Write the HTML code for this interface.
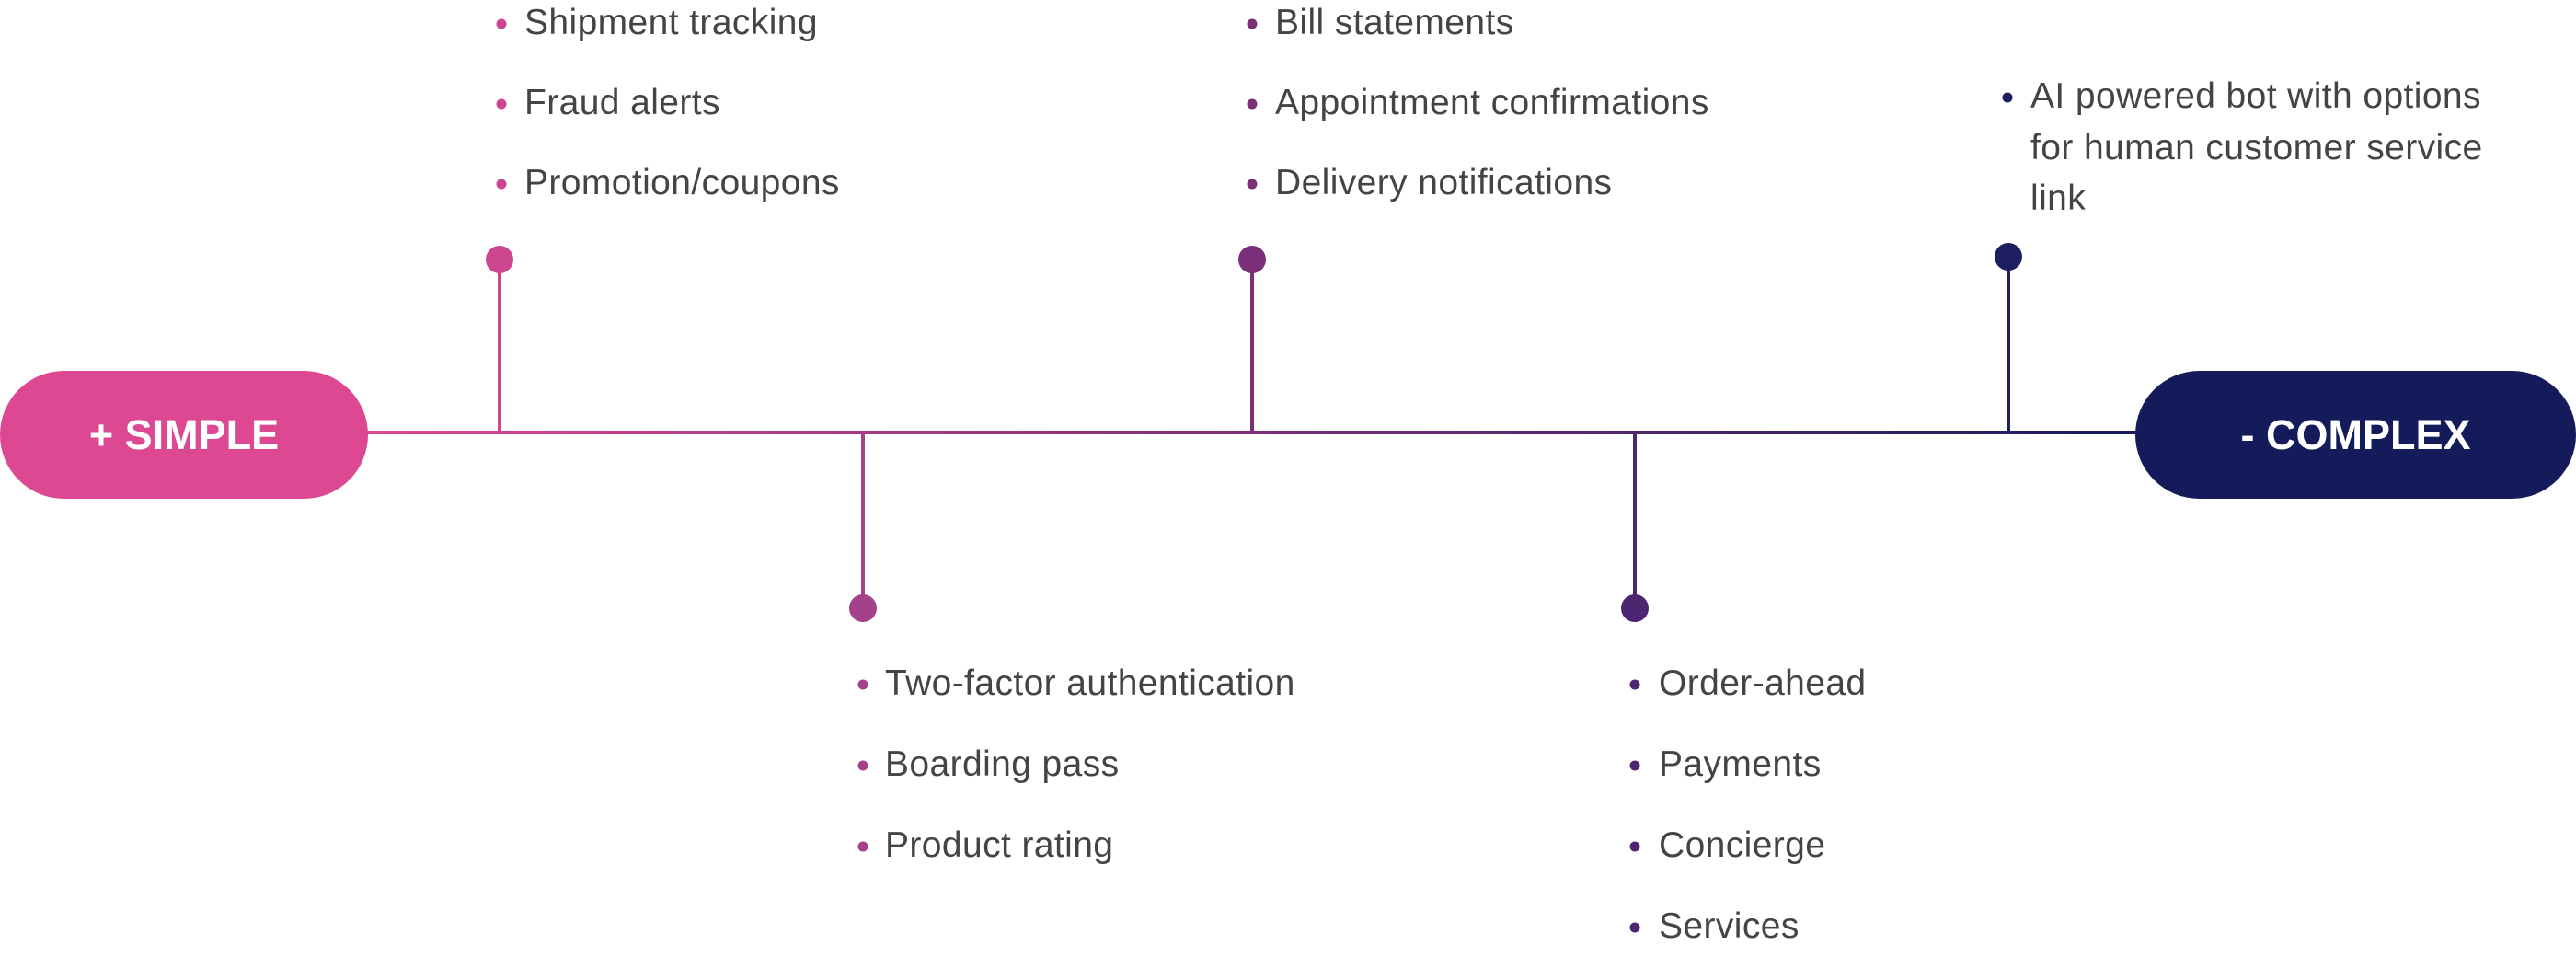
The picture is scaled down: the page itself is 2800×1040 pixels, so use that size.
<!DOCTYPE html>
<html><head><meta charset="utf-8"><style>
html,body{margin:0;padding:0;background:#fff;}
body{width:2800px;height:1040px;position:relative;overflow:hidden;font-family:"Liberation Sans",sans-serif;}
.t{position:absolute;font-size:39px;letter-spacing:0.4px;color:#444;white-space:nowrap;line-height:40px;transform:translateY(-20px);}
.b{position:absolute;width:11px;height:11px;border-radius:50%;transform:translate(-50%,-50%);}
.pill{position:absolute;top:403px;height:139px;border-radius:70px;color:#fff;font-weight:bold;font-size:45px;display:flex;align-items:center;justify-content:center;}
</style></head><body>
<svg width="2800" height="1040" style="position:absolute;left:0;top:0">
<defs><linearGradient id="g" x1="0" x2="1"><stop offset="0" stop-color="#dc4891"/><stop offset="0.5" stop-color="#7b2f78"/><stop offset="1" stop-color="#141b5b"/></linearGradient></defs>
<rect x="390" y="468" width="1940" height="4" fill="url(#g)"/>
<line x1="543" y1="282" x2="543" y2="470" stroke="#cc4690" stroke-width="4"/>
<circle cx="543" cy="282" r="15" fill="#cc4690"/>
<line x1="938" y1="470" x2="938" y2="661" stroke="#a3418a" stroke-width="4"/>
<circle cx="938" cy="661" r="15" fill="#a3418a"/>
<line x1="1361" y1="282" x2="1361" y2="470" stroke="#7b2f78" stroke-width="4"/>
<circle cx="1361" cy="282" r="15" fill="#7b2f78"/>
<line x1="1777" y1="470" x2="1777" y2="661" stroke="#4e2570" stroke-width="4"/>
<circle cx="1777" cy="661" r="15" fill="#4e2570"/>
<line x1="2183" y1="279" x2="2183" y2="470" stroke="#1e1f60" stroke-width="4"/>
<circle cx="2183" cy="279" r="15" fill="#1e1f60"/>
</svg>
<div class="pill" style="left:0;width:400px;background:#dc4891">+ SIMPLE</div>
<div class="pill" style="left:2321px;width:479px;background:#141b5b">- COMPLEX</div>

<div class="b" style="left:545px;top:26px;background:#cc4690"></div><div class="t" style="left:570px;top:25px">Shipment tracking</div>
<div class="b" style="left:545px;top:113px;background:#cc4690"></div><div class="t" style="left:570px;top:112px">Fraud alerts</div>
<div class="b" style="left:545px;top:200px;background:#cc4690"></div><div class="t" style="left:570px;top:199px">Promotion/coupons</div>

<div class="b" style="left:1361px;top:26px;background:#7b2f78"></div><div class="t" style="left:1386px;top:25px">Bill statements</div>
<div class="b" style="left:1361px;top:113px;background:#7b2f78"></div><div class="t" style="left:1386px;top:112px">Appointment confirmations</div>
<div class="b" style="left:1361px;top:200px;background:#7b2f78"></div><div class="t" style="left:1386px;top:199px">Delivery notifications</div>

<div class="b" style="left:2182px;top:106px;background:#1e1f60"></div>
<div class="t" style="left:2207px;top:105px">AI powered bot with options</div>
<div class="t" style="left:2207px;top:161px">for human customer service</div>
<div class="t" style="left:2207px;top:216px">link</div>

<div class="b" style="left:938px;top:744px;background:#a3418a"></div><div class="t" style="left:962px;top:743px">Two-factor authentication</div>
<div class="b" style="left:938px;top:832px;background:#a3418a"></div><div class="t" style="left:962px;top:831px">Boarding pass</div>
<div class="b" style="left:938px;top:920px;background:#a3418a"></div><div class="t" style="left:962px;top:919px">Product rating</div>

<div class="b" style="left:1777px;top:744px;background:#4e2570"></div><div class="t" style="left:1803px;top:743px">Order-ahead</div>
<div class="b" style="left:1777px;top:832px;background:#4e2570"></div><div class="t" style="left:1803px;top:831px">Payments</div>
<div class="b" style="left:1777px;top:920px;background:#4e2570"></div><div class="t" style="left:1803px;top:919px">Concierge</div>
<div class="b" style="left:1777px;top:1008px;background:#4e2570"></div><div class="t" style="left:1803px;top:1007px">Services</div>
</body></html>
